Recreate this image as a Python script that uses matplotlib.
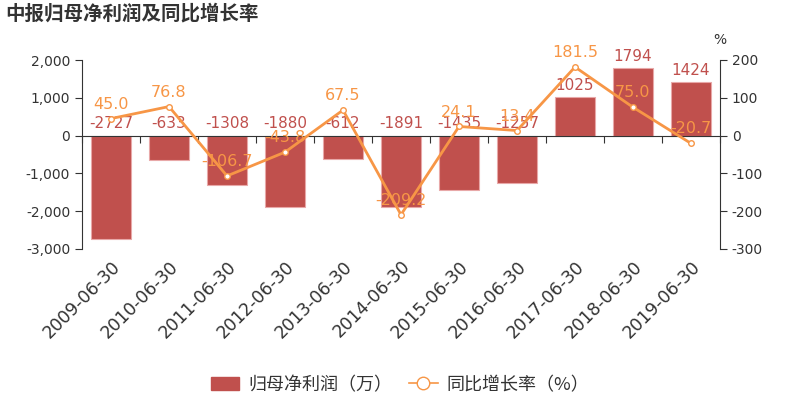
import matplotlib
matplotlib.use("Agg")
import matplotlib.pyplot as plt
from matplotlib.ticker import FuncFormatter, FixedLocator
from matplotlib.patches import Patch
from matplotlib.lines import Line2D
import numpy as np

plt.rcParams['font.family'] = ['DejaVu Sans', 'Noto Sans CJK SC']
plt.rcParams['axes.unicode_minus'] = False

categories = ["2009-06-30", "2010-06-30", "2011-06-30", "2012-06-30", "2013-06-30",
              "2014-06-30", "2015-06-30", "2016-06-30", "2017-06-30", "2018-06-30", "2019-06-30"]
profit = [-2727, -633, -1308, -1880, -612, -1891, -1435, -1257, 1025, 1794, 1424]
growth = [45.0, 76.8, -106.7, -43.8, 67.5, -209.2, 24.1, 13.4, 181.5, 75.0, -20.7]

bar_color = "#c0504d"
line_color = "#f79646"
text_color = "#333333"

fig = plt.figure(figsize=(8, 4), dpi=100)
ax = fig.add_axes([0.1025, 0.3775, 0.7975, 0.4725])
x = np.arange(len(categories))

ax.bar(x, profit, width=0.7, color=bar_color, edgecolor="#e8a8a8", linewidth=0.8, zorder=2)
ax.set_xlim(-0.5, len(categories) - 0.5)
ax.set_ylim(-3000, 2000)
ax.set_yticks([-3000, -2000, -1000, 0, 1000, 2000])
ax.yaxis.set_major_formatter(FuncFormatter(lambda v, p: f"{int(v):,}"))

for xi, v in zip(x, profit):
    yb = max(v, 0)
    ax.annotate(str(v), (xi, yb), xytext=(0, 3), textcoords="offset points",
                ha="center", va="bottom", color=bar_color, fontsize=11, zorder=5)

ax.spines["top"].set_visible(False)
ax.spines["right"].set_visible(False)
ax.spines["left"].set_color(text_color)
ax.spines["bottom"].set_position(("data", 0))
ax.spines["bottom"].set_color(text_color)
ax.xaxis.set_major_locator(FixedLocator(np.arange(-0.5, len(categories), 1.0)))
ax.tick_params(axis="x", which="major", length=5, direction="out", labelbottom=False, color=text_color)
ax.tick_params(axis="y", labelsize=10, colors=text_color, length=5)

sec = ax.secondary_xaxis(location=0)
sec.spines["bottom"].set_visible(False)
sec.set_xticks(x)
sec.set_xticklabels(categories, rotation=45, ha="right", rotation_mode="anchor", fontsize=12.5, color=text_color)
sec.tick_params(length=0, pad=6)

ax2 = ax.twinx()
ax2.set_ylim(-300, 200)
ax2.set_yticks([-300, -200, -100, 0, 100, 200])
ax2.plot(x, growth, color=line_color, linewidth=2, marker="o", markersize=4,
         markerfacecolor="white", markeredgecolor=line_color, markeredgewidth=1, zorder=4)
for xi, v in zip(x, growth):
    ax2.annotate(f"{v:.1f}", (xi, v), xytext=(0, 5), textcoords="offset points",
                 ha="center", va="bottom", color=line_color, fontsize=11.5, zorder=6)
for s in ["top", "left", "bottom"]:
    ax2.spines[s].set_visible(False)
ax2.spines["right"].set_color(text_color)
ax2.tick_params(axis="y", labelsize=10, colors=text_color, length=5)
ax2.text(1.0, 1.07, "%", transform=ax2.transAxes, ha="center", va="bottom", fontsize=10, color=text_color)

fig.text(0.006, 0.965, "中报归母净利润及同比增长率", fontsize=14, fontweight="bold",
         color=text_color, ha="left", va="center", family=['Noto Sans CJK SC', 'DejaVu Sans'])

handles = [Patch(facecolor=bar_color, edgecolor=bar_color),
           Line2D([0], [0], color=line_color, marker="o", markerfacecolor="white",
                  markeredgecolor=line_color, markersize=9, linewidth=1.2)]
leg = fig.legend(handles, ["归母净利润（万）", "同比增长率（%）"], loc="center", bbox_to_anchor=(0.5, 0.038),
                 ncol=2, frameon=False, handlelength=1.6, handletextpad=0.5, columnspacing=0.9,
                 prop={'family': ['Noto Sans CJK SC', 'DejaVu Sans'], 'size': 13})
for t in leg.get_texts():
    t.set_color(text_color)

fig.savefig("out.png", dpi=100)
